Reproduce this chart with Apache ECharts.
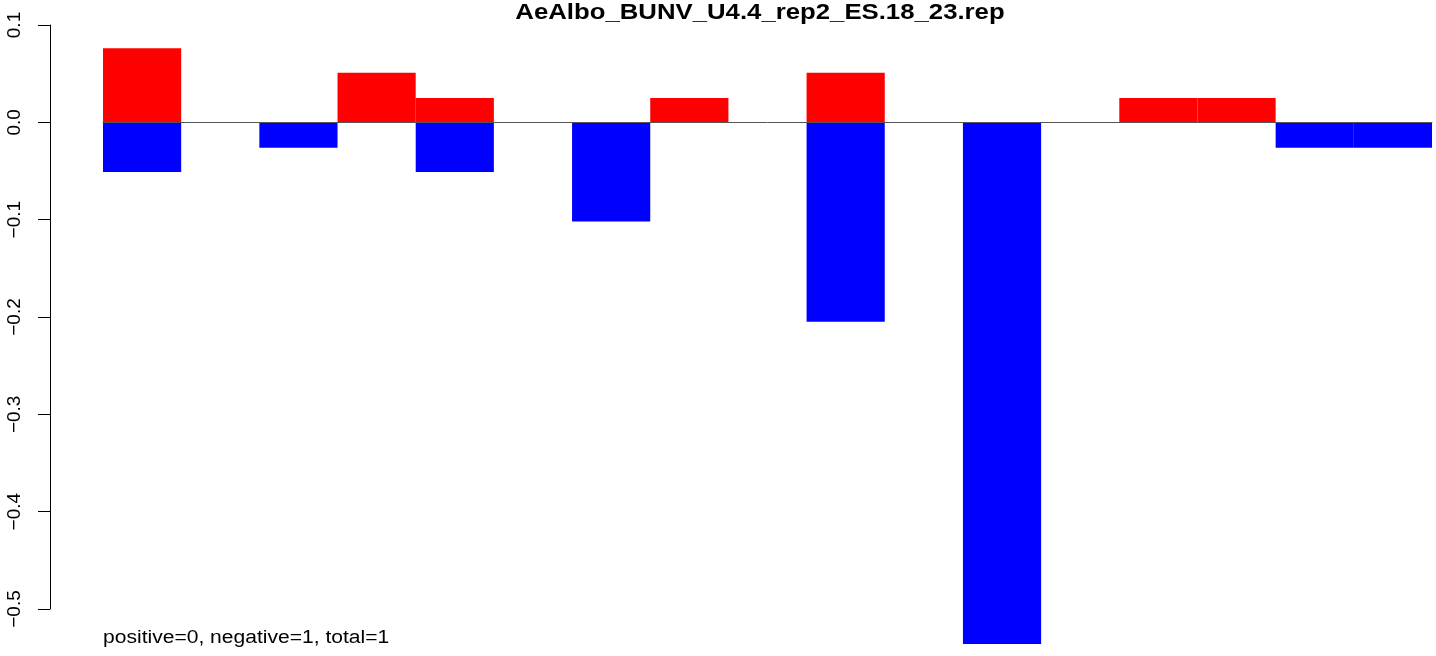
<!DOCTYPE html>
<html>
<head>
<meta charset="utf-8">
<script src="https://cdn.jsdelivr.net/npm/echarts@6/dist/echarts.min.js"></script>
<style>
html,body{margin:0;padding:0;background:#fff;}
#chart{width:1436px;height:656px;}
</style>
</head>
<body>
<div id="chart"></div>
<script>
const titleText = 'AeAlbo_BUNV_U4.4_rep2_ES.18_23.rep';
const noteText = 'positive=0, negative=1, total=1';
const categories = ['1','2','3','4','5','6','7','8','9','10','11','12','13','14','15','16','17'];
const positiveValues = [0.076, 0, 0, 0.051, 0.025, 0, 0, 0.025, 0, 0.051, 0, 0, 0, 0.025, 0.025, 0, 0];
const negativeValues = [-0.051, 0, -0.026, 0, -0.051, 0, -0.102, 0, 0, -0.205, 0, -0.536, 0, 0, 0, -0.026, -0.026];
const yTicks = [-0.5, -0.4, -0.3, -0.2, -0.1, 0.0, 0.1];

const chart = echarts.init(document.getElementById('chart'), null, {renderer: 'canvas'});
const fontFam = '"Liberation Sans", Arial, Helvetica, sans-serif';
chart.setOption({
  animation: false,
  backgroundColor: '#ffffff',
  graphic: [{
    type: 'text', x: 760, y: 2, scaleX: 1.17, scaleY: 1,
    style: {text: titleText, textAlign: 'center', textVerticalAlign: 'top',
            fontFamily: fontFam, fontWeight: 'bold', fontSize: 22, fill: '#000'}
  }, {
    type: 'text', x: 103, y: 629, scaleX: 1.17, scaleY: 1,
    style: {text: noteText, textAlign: 'left', textVerticalAlign: 'top',
            fontFamily: fontFam, fontSize: 18, fill: '#000'}
  }],
  grid: {left: 103, right: 4, top: 25, height: 584, containLabel: false},
  xAxis: {
    type: 'category', data: categories,
    z: 5,
    axisLine: {show: true, onZero: true, lineStyle: {color: '#555555', width: 1}},
    axisTick: {show: false}, axisLabel: {show: false}, splitLine: {show: false}
  },
  yAxis: {
    type: 'value', min: yTicks[0], max: yTicks[yTicks.length - 1], interval: 0.1,
    offset: 53,
    axisLine: {show: true, lineStyle: {color: '#000', width: 1}},
    axisTick: {show: true, length: 12, lineStyle: {color: '#000', width: 1}},
    splitLine: {show: false},
    axisLabel: {
      rotate: 90, margin: 26,
      fontFamily: fontFam, fontSize: 19, color: '#000',
      formatter: function (v) { return (Math.round(v * 10) / 10).toFixed(1).replace('-', '\u2212'); }
    }
  },
  series: [
    {type: 'bar', name: 'positive', data: positiveValues, barCategoryGap: 0, barGap: '-100%', clip: false,
     itemStyle: {color: '#ff0000'}, z: 2},
    {type: 'bar', name: 'negative', data: negativeValues, barCategoryGap: 0, barGap: '-100%', clip: false,
     itemStyle: {color: '#0000ff'}, z: 2}
  ]
});
</script>
</body>
</html>
